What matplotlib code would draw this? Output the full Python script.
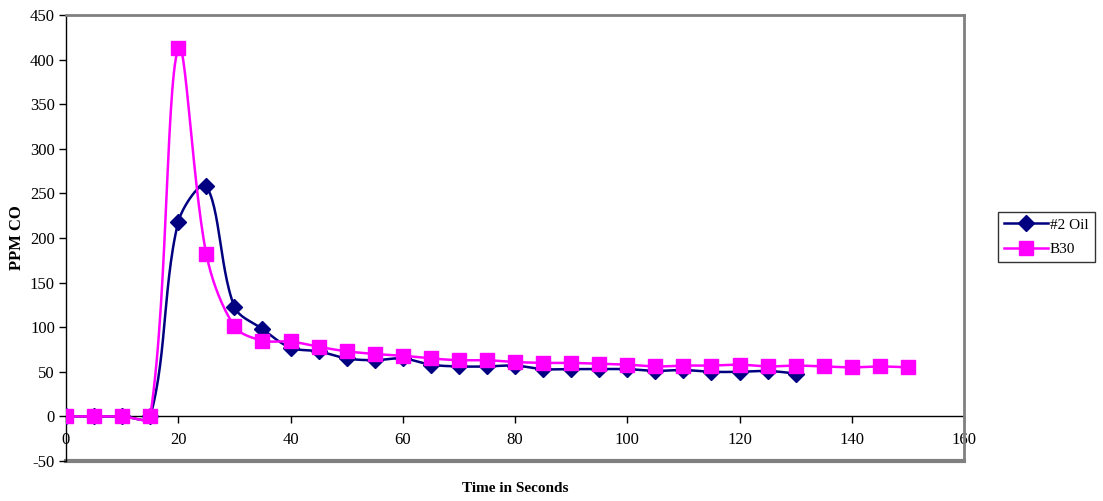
import numpy as np
import matplotlib
matplotlib.use('Agg')
import matplotlib.pyplot as plt

# data (time in s, ppm CO)
oil_time = [0, 5, 10, 15, 20, 25, 30, 35, 40, 45, 50, 55, 60, 65, 70, 75, 80,
            85, 90, 95, 100, 105, 110, 115, 120, 125, 130]
oil_ppm = [0, 0, 0, 0, 218, 258, 123, 98, 77, 73, 65, 63, 65, 58, 56, 56, 57,
           53, 53, 53, 53, 51, 52, 50, 50, 51, 48]

b30_time = [0, 5, 10, 15, 20, 25, 30, 35, 40, 45, 50, 55, 60, 65, 70, 75, 80,
            85, 90, 95, 100, 105, 110, 115, 120, 125, 130, 135, 140, 145, 150]
b30_ppm = [0, 0, 0, 0, 413, 182, 101, 85, 84, 78, 73, 70, 68, 65, 63, 63, 61,
           60, 60, 59, 58, 56, 57, 57, 58, 56, 57, 56, 55, 56, 55]

x_ticks = list(range(0, 161, 20))
y_ticks = list(range(-50, 451, 50))

plt.rcParams['font.family'] = ['Liberation Serif', 'DejaVu Serif']
plt.rcParams['axes.unicode_minus'] = False

fig = plt.figure(figsize=(11.03, 5.01), dpi=100)
ax = fig.add_axes([66/1103, 40/501, (964-66)/1103, (461-15)/501])
ax.set_xlim(0, 160)
ax.set_ylim(-50, 450)


def smooth(ax, xs, ys, n=30):
    # excel style smoothed line, bezier through points, done in pixel space
    pts = ax.transData.transform(np.column_stack([xs, ys]))
    P = np.vstack([pts[0], pts, pts[-1]])
    out = []
    for i in range(1, len(P) - 2):
        p0, p1, p2, p3 = P[i-1], P[i], P[i+1], P[i+2]
        d0 = np.hypot(*(p1 - p0)); d1 = np.hypot(*(p2 - p1)); d2 = np.hypot(*(p3 - p2))
        c1 = p1 + (p2 - p0) * (d1 / max(d0 + d1, 1e-9)) / 3 if d0 > 0 else p1
        c2 = p2 - (p3 - p1) * (d1 / max(d1 + d2, 1e-9)) / 3 if d2 > 0 else p2
        t = np.linspace(0, 1, n)[:, None]
        seg = (1-t)**3*p1 + 3*(1-t)**2*t*c1 + 3*(1-t)*t**2*c2 + t**3*p2
        out.append(seg if i == 1 else seg[1:])
    out = np.vstack(out)
    return ax.transData.inverted().transform(out)


oil_line = smooth(ax, oil_time, oil_ppm)
b30_line = smooth(ax, b30_time, b30_ppm)

ax.plot(oil_line[:, 0], oil_line[:, 1], color='#000080', lw=1.8, zorder=3)
ax.plot(oil_time, oil_ppm, ls='none', marker='D', ms=8, color='#000080', zorder=4)
ax.plot(b30_line[:, 0], b30_line[:, 1], color='#FF00FF', lw=1.8, zorder=5)
ax.plot(b30_time, b30_ppm, ls='none', marker='s', ms=10, color='#FF00FF', zorder=6)

# legend entries
ax.plot([], [], color='#000080', lw=1.8, marker='D', ms=8, label='#2 Oil')
ax.plot([], [], color='#FF00FF', lw=1.8, marker='s', ms=10, label='B30')

# frame and axes
for s in ['top', 'right']:
    ax.spines[s].set_color('#808080')
    ax.spines[s].set_linewidth(2)
ax.spines['left'].set_color('black')
ax.spines['left'].set_linewidth(1)
ax.spines['bottom'].set_position(('data', 0))
ax.spines['bottom'].set_color('black')
ax.spines['bottom'].set_linewidth(1)
ax.spines['bottom'].set_zorder(2)
ax.axhline(-50, color='#808080', lw=3, clip_on=False, zorder=1)

ax.set_xticks(x_ticks)
ax.set_yticks(y_ticks)
ax.tick_params(axis='both', direction='out', length=5, width=1, labelsize=12, color='black')
ax.tick_params(axis='x', pad=6)
ax.tick_params(axis='y', pad=3)

fig.text(17/1103, 1 - 238/501, 'PPM CO', fontsize=12, fontweight='bold',
         rotation=90, ha='center', va='center')
fig.text(515/1103, 1 - 489/501, 'Time in Seconds', fontsize=11, fontweight='bold',
         ha='center', va='center')

leg = ax.legend(loc='upper left', bbox_to_anchor=(998/1103, 1 - 212/501),
                bbox_transform=fig.transFigure, fontsize=11, frameon=True,
                fancybox=False, edgecolor='black', handlelength=2.9,
                borderpad=0.4, labelspacing=0.7, handletextpad=0.1, borderaxespad=0)
leg.get_frame().set_linewidth(1)

fig.savefig('out.png', dpi=100)
